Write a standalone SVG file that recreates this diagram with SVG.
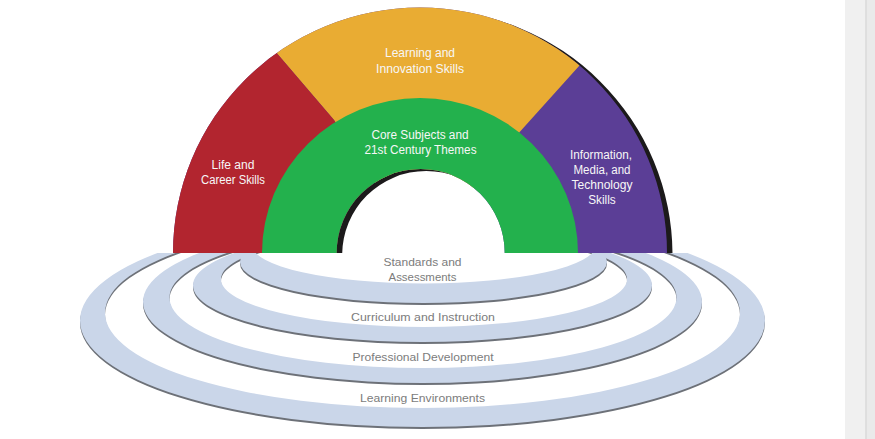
<svg xmlns="http://www.w3.org/2000/svg" width="875" height="439" viewBox="0 0 875 439">
  <style>
    .arch-text { font-family: "Liberation Sans", Arial, sans-serif; font-size: 12px; fill: #f7f7f7; text-anchor: middle; }
    .ring-text { font-family: "Liberation Sans", Arial, sans-serif; font-size: 11.5px; fill: #7c7c7c; text-anchor: middle; }
    .ring-band { fill: #cad6e9; fill-rule: evenodd; }
    .ring-edge { fill: #6d7178; fill-rule: evenodd; }
  </style>
  <defs>
    <clipPath id="archClip">
      <path clip-rule="evenodd" d="M 173 253 A 247 245.5 0 0 1 667 253 Z M 336.7 253 A 84 84 0 0 1 504.7 253 Z"/>
    </clipPath>
    <clipPath id="aboveBase">
      <rect x="0" y="0" width="875" height="253"/>
    </clipPath>
    <clipPath id="belowBase">
      <rect x="0" y="253" width="875" height="186"/>
    </clipPath>
  </defs>

  <rect x="0" y="0" width="875" height="439" fill="#ffffff"/>

  <!-- side panel -->
  <g id="side-panel">
    <rect x="845" y="0" width="30" height="439" fill="#f0f0f0"/>
    <rect x="866.5" y="0" width="8.5" height="439" fill="#eaeaea"/>
    <line x1="866" y1="0" x2="866" y2="439" stroke="#cfcfcf" stroke-width="1"/>
  </g>

  <!-- rings (support systems) -->
  <g id="rings" clip-path="url(#belowBase)">
    <g id="ring-learning-environments">
      <path class="ring-edge" transform="translate(0,2)" d="M 80 320.5 A 342.5 106.5 0 1 0 765 320.5 A 342.5 106.5 0 1 0 80 320.5 Z M 105 312.8 A 317.5 95.2 0 1 0 740 312.8 A 317.5 95.2 0 1 0 105 312.8 Z"/>
      <path class="ring-band" d="M 80 320.5 A 342.5 106.5 0 1 0 765 320.5 A 342.5 106.5 0 1 0 80 320.5 Z M 105 312.8 A 317.5 95.2 0 1 0 740 312.8 A 317.5 95.2 0 1 0 105 312.8 Z"/>
    </g>
    <g id="ring-professional-development">
      <path class="ring-edge" transform="translate(0,2)" d="M 143 301.8 A 279.5 81.2 0 1 0 702 301.8 A 279.5 81.2 0 1 0 143 301.8 Z M 169.5 297.6 A 253.5 70.4 0 1 0 676.5 297.6 A 253.5 70.4 0 1 0 169.5 297.6 Z"/>
      <path class="ring-band" d="M 143 301.8 A 279.5 81.2 0 1 0 702 301.8 A 279.5 81.2 0 1 0 143 301.8 Z M 169.5 297.6 A 253.5 70.4 0 1 0 676.5 297.6 A 253.5 70.4 0 1 0 169.5 297.6 Z"/>
    </g>
    <g id="ring-curriculum-instruction">
      <path class="ring-edge" transform="translate(0,2)" d="M 193 285.4 A 229.5 56.6 0 1 0 652 285.4 A 229.5 56.6 0 1 0 193 285.4 Z M 221 279.2 A 203 47.8 0 1 0 627 279.2 A 203 47.8 0 1 0 221 279.2 Z"/>
      <path class="ring-band" d="M 193 285.4 A 229.5 56.6 0 1 0 652 285.4 A 229.5 56.6 0 1 0 193 285.4 Z M 221 279.2 A 203 47.8 0 1 0 627 279.2 A 203 47.8 0 1 0 221 279.2 Z"/>
    </g>
    <g id="ring-standards-assessments">
      <path class="ring-edge" transform="translate(0,2)" d="M 240 262 A 183.5 41 0 1 0 607 262 A 183.5 41 0 1 0 240 262 Z M 252 245 A 172 38.5 0 1 0 596 245 A 172 38.5 0 1 0 252 245 Z"/>
      <path class="ring-band" d="M 240 262 A 183.5 41 0 1 0 607 262 A 183.5 41 0 1 0 240 262 Z M 252 245 A 172 38.5 0 1 0 596 245 A 172 38.5 0 1 0 252 245 Z"/>
    </g>
  </g>

  <g id="ring-labels">
    <text class="ring-text" x="422.5" y="265.5" textLength="78" lengthAdjust="spacingAndGlyphs">Standards and</text>
    <text class="ring-text" x="422.5" y="280.5" textLength="68" lengthAdjust="spacingAndGlyphs">Assessments</text>
    <text class="ring-text" x="423" y="321" textLength="144" lengthAdjust="spacingAndGlyphs">Curriculum and Instruction</text>
    <text class="ring-text" x="423" y="361" textLength="141" lengthAdjust="spacingAndGlyphs">Professional Development</text>
    <text class="ring-text" x="422.5" y="402" textLength="125" lengthAdjust="spacingAndGlyphs">Learning Environments</text>
  </g>

  <!-- arch shadow -->
  <g id="arch-shadow" clip-path="url(#aboveBase)">
    <path transform="translate(5.5,2)" fill="#1c1a1b" fill-rule="evenodd" d="M 173 253 A 247 245.5 0 0 1 667 253 Z M 336.7 253 A 84 84 0 0 1 504.7 253 Z"/>
  </g>

  <!-- arch (student outcomes) -->
  <g id="arch" clip-path="url(#archClip)">
    <g id="info-media-tech">
      <rect x="160" y="0" width="520" height="253" fill="#5b3e96"/>
    </g>
    <g id="learning-innovation">
      <polygon fill="#e9ac33" points="334,120 220,-13.4 220,-80 700,-80 695.4,-63.3 519.9,131.7 420,253"/>
    </g>
    <g id="life-career">
      <polygon fill="#b2252f" points="334,120 220,-13.4 100,-13.4 100,260 420,260"/>
    </g>
    <g id="core-subjects">
      <ellipse cx="420" cy="253" rx="158" ry="155" fill="#23b14d"/>
    </g>
  </g>

  <g id="arch-labels">
    <text class="arch-text" x="420" y="57" textLength="70" lengthAdjust="spacingAndGlyphs">Learning and</text>
    <text class="arch-text" x="420" y="72.5" textLength="88" lengthAdjust="spacingAndGlyphs">Innovation Skills</text>
    <text class="arch-text" x="420" y="139" textLength="97" lengthAdjust="spacingAndGlyphs">Core Subjects and</text>
    <text class="arch-text" x="420.5" y="154" textLength="112" lengthAdjust="spacingAndGlyphs">21st Century Themes</text>
    <text class="arch-text" x="233" y="169" textLength="43" lengthAdjust="spacingAndGlyphs">Life and</text>
    <text class="arch-text" x="233" y="184" textLength="64" lengthAdjust="spacingAndGlyphs">Career Skills</text>
    <text class="arch-text" x="601" y="159" textLength="62" lengthAdjust="spacingAndGlyphs">Information,</text>
    <text class="arch-text" x="602" y="173.5" textLength="57" lengthAdjust="spacingAndGlyphs">Media, and</text>
    <text class="arch-text" x="602" y="189" textLength="61" lengthAdjust="spacingAndGlyphs">Technology</text>
    <text class="arch-text" x="602" y="204" textLength="27.5" lengthAdjust="spacingAndGlyphs">Skills</text>
  </g>
</svg>
